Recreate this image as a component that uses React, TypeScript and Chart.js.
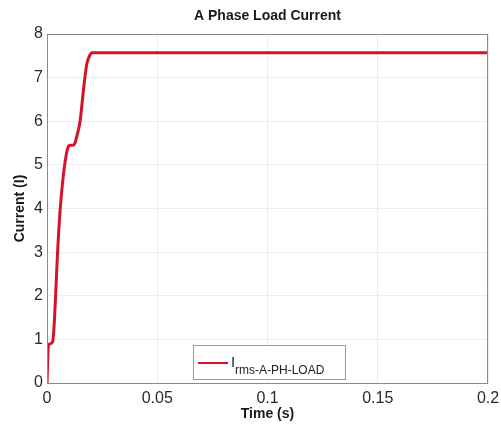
import React, { useEffect, useRef } from "react";
import { Chart, registerables } from "chart.js";

Chart.register(...registerables);

// Load current trace (time in seconds, current in amperes)
const timeS = [0, 0.0006, 0.0015, 0.0026, 0.0032, 0.0039, 0.0048, 0.006, 0.0075, 0.0086, 0.0095, 0.0105, 0.0118, 0.0127, 0.0135, 0.015, 0.0165, 0.018, 0.0195, 0.0203, 0.05, 0.1, 0.15, 0.2];
const currentA = [0, 0.85, 0.9, 0.95, 1.3, 2.0, 3.0, 4.0, 4.8, 5.2, 5.4, 5.45, 5.45, 5.5, 5.65, 6.0, 6.7, 7.3, 7.52, 7.57, 7.57, 7.57, 7.57, 7.57];

const xTicks = [0, 0.05, 0.1, 0.15, 0.2];
const xTickLabels = ["0", "0.05", "0.1", "0.15", "0.2"];
const yTicks = [0, 1, 2, 3, 4, 5, 6, 7, 8];

const chartTitle = "A Phase Load Current";
const xTitle = "Time (s)";
const yTitle = "Current (I)";
const legendMain = "I";
const legendSub = "rms-A-PH-LOAD";

const LINE_COLOR = "#d4132b";
const FONT = "Arial, 'Liberation Sans', sans-serif";

const decorPlugin = {
  id: "decor",
  afterDraw(chart: any) {
    const { ctx, chartArea } = chart;
    ctx.save();
    // plot box
    ctx.strokeStyle = "#8a8a8a";
    ctx.lineWidth = 1;
    ctx.strokeRect(chartArea.left + 0.5, chartArea.top + 0.5, chartArea.right - chartArea.left - 1, chartArea.bottom - chartArea.top);
    // title
    ctx.fillStyle = "#1a1a1a";
    ctx.font = `bold 14px ${FONT}`;
    ctx.textAlign = "center";
    ctx.textBaseline = "middle";
    ctx.fillText(chartTitle, (chartArea.left + chartArea.right) / 2, 16);
    // legend
    const bx = 193, by = 345, bw = 152, bh = 34;
    ctx.fillStyle = "#ffffff";
    ctx.fillRect(bx, by, bw, bh);
    ctx.strokeStyle = "#9a9a9a";
    ctx.lineWidth = 1;
    ctx.strokeRect(bx + 0.5, by + 0.5, bw, bh);
    ctx.strokeStyle = LINE_COLOR;
    ctx.lineWidth = 2;
    ctx.beginPath();
    ctx.moveTo(bx + 5, by + 18);
    ctx.lineTo(bx + 35, by + 18);
    ctx.stroke();
    ctx.fillStyle = "#222";
    ctx.textAlign = "left";
    ctx.textBaseline = "alphabetic";
    ctx.font = `15px ${FONT}`;
    ctx.fillText(legendMain, bx + 38, by + 22);
    ctx.font = `12px ${FONT}`;
    ctx.fillText(legendSub, bx + 42, by + 29);
    ctx.restore();
  },
};

export default function App() {
  const canvasRef = useRef<HTMLCanvasElement | null>(null);

  useEffect(() => {
    document.body.style.margin = "0";
    const canvas = canvasRef.current;
    if (!canvas) return;
    const chart = new Chart(canvas, {
      type: "line",
      data: {
        datasets: [
          {
            label: legendMain + legendSub,
            data: timeS.map((t, i) => ({ x: t, y: currentA[i] })),
            borderColor: LINE_COLOR,
            borderWidth: 3,
            pointRadius: 0,
            cubicInterpolationMode: "monotone",
            fill: false,
          },
        ],
      },
      options: {
        animation: false,
        responsive: false,
        maintainAspectRatio: false,
        layout: { padding: { top: 34, right: 13, left: 0, bottom: 0 } },
        plugins: {
          legend: { display: false },
          title: { display: false },
          tooltip: { enabled: false },
        },
        scales: {
          x: {
            type: "linear",
            min: 0,
            max: 0.2,
            afterBuildTicks: (scale: any) => {
              scale.ticks = xTicks.map((v) => ({ value: v }));
            },
            afterFit: (scale: any) => {
              scale.height = 44;
              scale.paddingLeft = 0;
              scale.paddingRight = 0;
            },
            grid: { color: "#ececec", drawTicks: false },
            border: { display: false },
            ticks: {
              padding: 6,
              color: "#2a2a2a",
              font: { family: FONT, size: 16 },
              maxRotation: 0,
              callback: (v: any) => {
                const i = xTicks.indexOf(Number(v));
                return i >= 0 ? xTickLabels[i] : "";
              },
            },
            title: {
              display: true,
              text: xTitle,
              color: "#1a1a1a",
              font: { family: FONT, size: 14, weight: "bold" },
              padding: { top: 0, bottom: 4 },
            },
          },
          y: {
            type: "linear",
            min: 0,
            max: 8,
            afterBuildTicks: (scale: any) => {
              scale.ticks = yTicks.map((v) => ({ value: v }));
            },
            afterFit: (scale: any) => {
              scale.width = 47;
              scale.paddingTop = 0;
              scale.paddingBottom = 0;
            },
            grid: { color: "#ececec", drawTicks: false },
            border: { display: false },
            ticks: {
              padding: 4,
              color: "#2a2a2a",
              font: { family: FONT, size: 16 },
            },
            title: {
              display: true,
              text: yTitle,
              color: "#1a1a1a",
              font: { family: FONT, size: 14, weight: "bold" },
              padding: { top: 12, bottom: 2 },
            },
          },
        },
      },
      plugins: [decorPlugin],
    } as any);
    return () => chart.destroy();
  }, []);

  return (
    <div style={{ position: "fixed", left: 0, top: 0, width: 501, height: 427, background: "#fff" }}>
      <canvas ref={canvasRef} width={501} height={427} style={{ width: 501, height: 427 }} />
    </div>
  );
}
